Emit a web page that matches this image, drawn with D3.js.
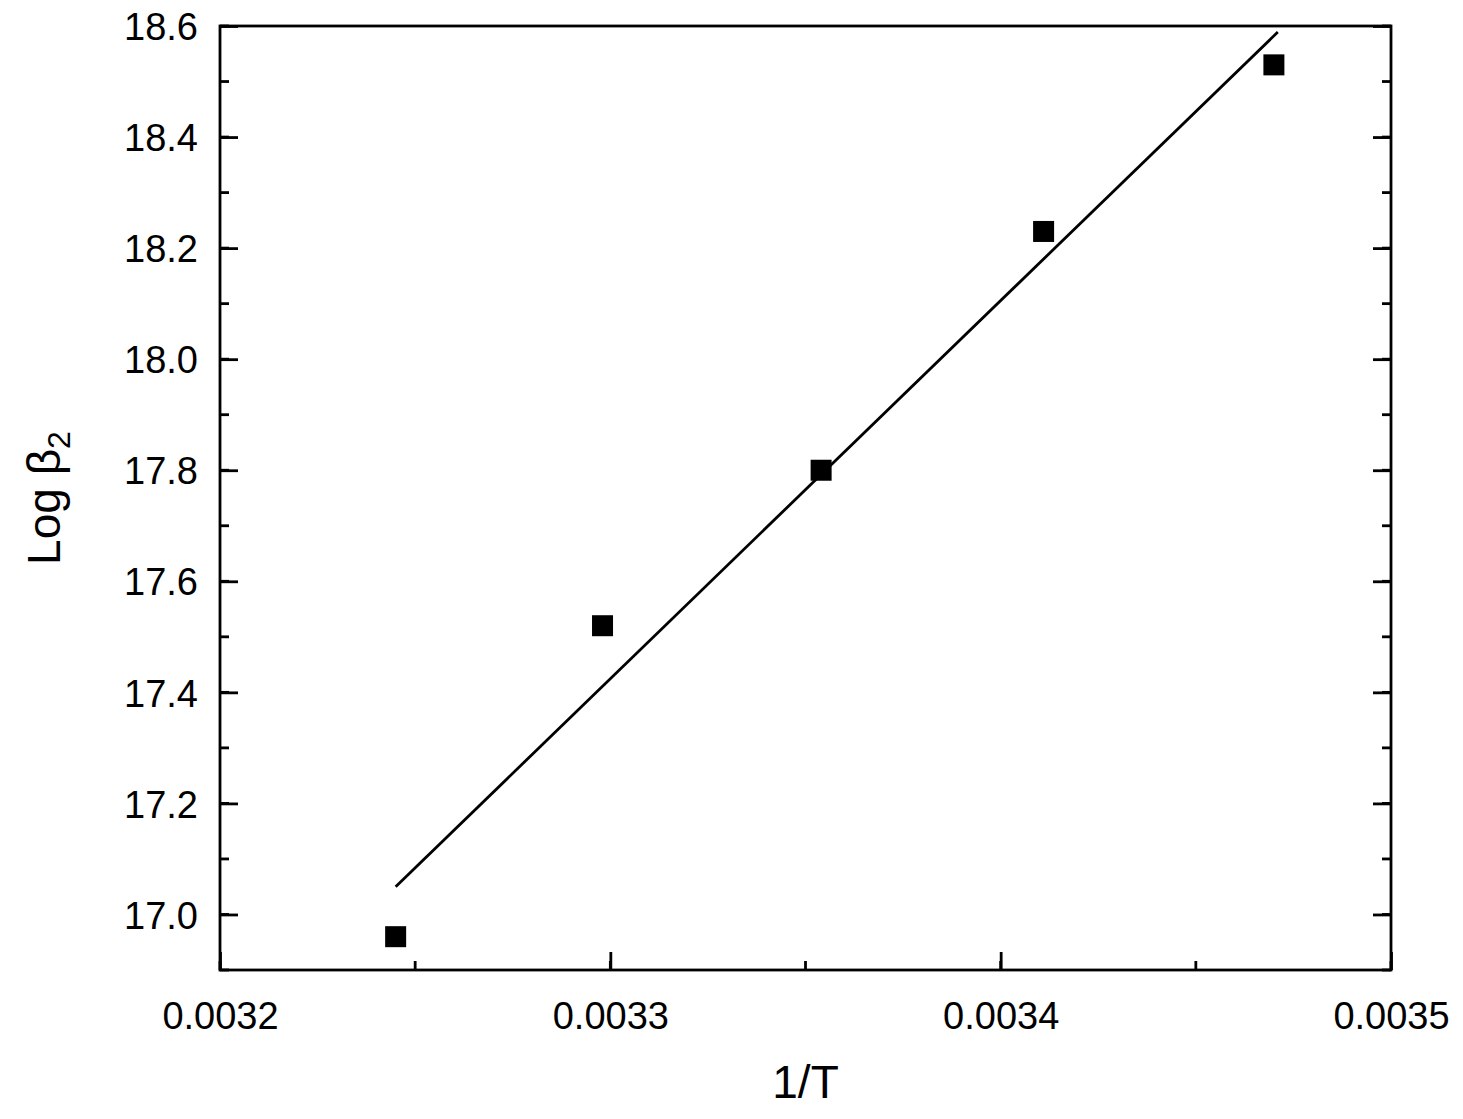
<!DOCTYPE html>
<html><head><meta charset="utf-8">
<script src="https://cdn.jsdelivr.net/npm/d3@7"></script>
<style>body{margin:0;background:#fff}svg{display:block}text{font-family:"Liberation Sans",Arial,sans-serif;fill:#000}</style>
</head><body>
<script>
const invT = [0.003245, 0.003298, 0.003354, 0.003411, 0.003470];
const logB2 = [16.96, 17.52, 17.80, 18.23, 18.53];
const fitX = [0.003245, 0.003471];
const fitY = [17.05, 18.589];
const xTicks = [0.0032, 0.0033, 0.0034, 0.0035];
const xTickLabels = ["0.0032", "0.0033", "0.0034", "0.0035"];
const yTicks = [17.0, 17.2, 17.4, 17.6, 17.8, 18.0, 18.2, 18.4, 18.6];
const yTickLabels = ["17.0","17.2","17.4","17.6","17.8","18.0","18.2","18.4","18.6"];

const W = 1463, H = 1119;
const L = 220, R = 1391, T = 26, B = 970;
const svg = d3.select("body").append("svg").attr("width", W).attr("height", H);
const x = d3.scaleLinear().domain([0.0032, 0.0035]).range([L, R]);
const y = d3.scaleLinear().domain([16.9, 18.6]).range([B, T]);

const sw = 2.8;
const xMinor = d3.range(0, 7).map(i => 0.0032 + i * 0.00005);
const yMinor = d3.range(0, 18).map(i => 16.9 + i * 0.1);

// bottom axis (ticks inward)
const gx = svg.append("g").attr("transform", `translate(0,${B})`)
  .call(d3.axisBottom(x).tickValues(xTicks).tickSize(-18).tickPadding(32)
    .tickFormat((d, i) => xTickLabels[i]));
gx.selectAll("text").attr("font-size", 38).attr("dy", "0.71em");
gx.selectAll(".tick line").attr("stroke-width", sw);
gx.select(".domain").remove();
svg.append("g").selectAll("line").data(xMinor).join("line")
  .attr("x1", d => x(d)).attr("x2", d => x(d)).attr("y1", B).attr("y2", B - 9)
  .attr("stroke", "#000").attr("stroke-width", sw);

// left axis
const gy = svg.append("g").attr("transform", `translate(${L},0)`)
  .call(d3.axisLeft(y).tickValues(yTicks).tickSize(-18).tickPadding(22)
    .tickFormat((d, i) => yTickLabels[i]));
gy.selectAll("text").attr("font-size", 38).attr("dy", "0.36em");
gy.selectAll(".tick line").attr("stroke-width", sw);
gy.select(".domain").remove();
svg.append("g").selectAll("line").data(yMinor).join("line")
  .attr("x1", L).attr("x2", L + 9).attr("y1", d => y(d)).attr("y2", d => y(d))
  .attr("stroke", "#000").attr("stroke-width", sw);

// right axis ticks
const gr = svg.append("g").attr("transform", `translate(${R},0)`)
  .call(d3.axisRight(y).tickValues(yTicks).tickSize(-18).tickFormat(""));
gr.selectAll(".tick line").attr("stroke-width", sw);
gr.select(".domain").remove();
svg.append("g").selectAll("line").data(yMinor).join("line")
  .attr("x1", R).attr("x2", R - 9).attr("y1", d => y(d)).attr("y2", d => y(d))
  .attr("stroke", "#000").attr("stroke-width", sw);

// frame
svg.append("rect").attr("x", L).attr("y", T).attr("width", R - L).attr("height", B - T)
  .attr("fill", "none").attr("stroke", "#000").attr("stroke-width", sw);

// fit line
svg.append("line")
  .attr("x1", x(fitX[0])).attr("y1", y(fitY[0]))
  .attr("x2", x(fitX[1])).attr("y2", y(fitY[1]))
  .attr("stroke", "#000").attr("stroke-width", 2.8);

// markers
const s = 21;
svg.append("g").selectAll("rect").data(invT.map((v, i) => [v, logB2[i]])).join("rect")
  .attr("x", d => x(d[0]) - s / 2).attr("y", d => y(d[1]) - s / 2)
  .attr("width", s).attr("height", s).attr("fill", "#000");

// axis titles
svg.append("text").attr("x", (L + R) / 2).attr("y", 1098).attr("text-anchor", "middle")
  .attr("font-size", 46).text("1/T");
const yt = svg.append("text").attr("transform", `translate(60,${(T + B) / 2}) rotate(-90)`)
  .attr("text-anchor", "middle").attr("font-size", 46);
yt.append("tspan").text("Log β");
yt.append("tspan").attr("font-size", 32).attr("dy", 10).text("2");
</script>
</body></html>
